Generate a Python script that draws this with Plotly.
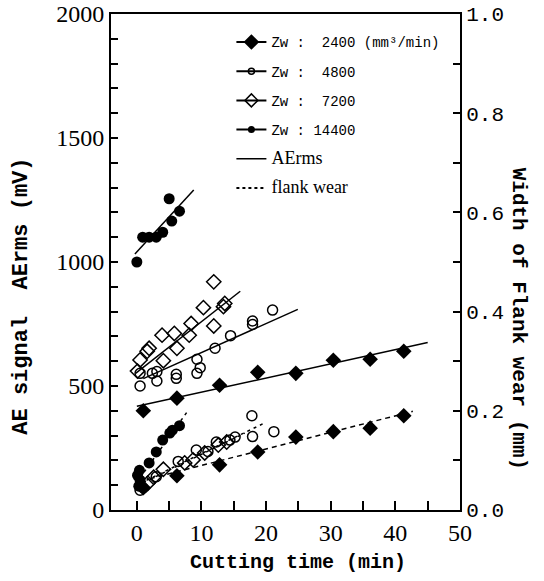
import plotly.graph_objects as go

# ---------------- data ----------------
# Zw = 2400 mm3/min (filled diamonds)
t_2400 = [1, 6.2, 12.8, 18.7, 24.6, 30.4, 36.1, 41.3]
ae_2400 = [400, 451, 503, 555, 551, 604, 608, 640]
fw_2400 = [0.045, 0.069, 0.091, 0.117, 0.147, 0.158, 0.165, 0.19]

# Zw = 4800 (open circles)
t_4800_ae = [0.5, 0.5, 2.4, 3.1, 3.1, 6.1, 6.1, 9.3, 9.8, 9.3, 12.1, 14.5, 17.9, 17.9, 21.0]
ae_4800 = [500, 551, 551, 520, 558, 547, 531, 551, 574, 608, 652, 703, 762, 748, 806]
t_4800_fw = [0.5, 3.0, 6.4, 9.2, 11.0, 12.3, 14.4, 15.2, 17.8, 17.9, 21.2]
fw_4800 = [0.04, 0.067, 0.098, 0.121, 0.118, 0.137, 0.141, 0.147, 0.190, 0.148, 0.158]

# Zw = 7200 (open diamonds)
t_7200_ae = [0.1, 0.5, 1.6, 1.9, 3.9, 4.1, 5.8, 6.2, 8.1, 8.4, 10.3, 11.9, 11.9, 13.4, 13.6]
ae_7200 = [560, 605, 640, 652, 705, 602, 712, 652, 705, 752, 816, 742, 920, 820, 833]
t_7200_fw = [1.7, 2.6, 4.1, 7.4, 8.7, 10.5, 12.6, 13.9]
fw_7200 = [0.054, 0.066, 0.082, 0.095, 0.101, 0.115, 0.131, 0.137]

# Zw = 14400 (filled circles)
t_14400_ae = [0, 0.9, 1.9, 3.0, 4.0, 5.4, 6.6, 5.0]
ae_14400 = [1000, 1100, 1100, 1100, 1120, 1165, 1205, 1255]
t_14400_fw = [0.1, 0.3, 0.4, 0.5, 1.0, 1.9, 3.0, 4.0, 5.1, 5.5, 6.6]
fw_14400 = [0.07, 0.048, 0.08, 0.06, 0.044, 0.095, 0.117, 0.141, 0.155, 0.161, 0.170]

# fitted trend lines (end points)
fit_ae_2400_t = [0, 45];     fit_ae_2400_v = [418, 675]
fit_ae_4800_t = [1, 24.9];   fit_ae_4800_v = [530, 809]
fit_ae_7200_t = [-0.2, 16];  fit_ae_7200_v = [551, 882]
fit_ae_14400_t = [-0.3, 8.8]; fit_ae_14400_v = [1032, 1290]
fit_fw_2400_t = [2, 42.7];   fit_fw_2400_v = [0.063, 0.199]
fit_fw_4800_t = [1.5, 20];   fit_fw_4800_v = [0.06, 0.177]
fit_fw_7200_t = [1, 16.7];   fit_fw_7200_v = [0.055, 0.155]
fit_fw_14400_t = [0.5, 7.9]; fit_fw_14400_v = [0.065, 0.2]

legend_names = [
    "Zw :\u00a0\u00a02400 (mm³/min)",
    "Zw :\u00a0\u00a04800",
    "Zw :\u00a0\u00a07200",
    "Zw : 14400",
]

# ---------------- styles ----------------
K = "black"
SERIF = "Liberation Serif"
MONO = "Liberation Mono"
sym = {"2400": ("diamond", 12, 0), "4800": ("circle-open", 10, 1.5),
       "7200": ("diamond-open", 11, 1.5), "14400": ("circle", 11, 0)}
leg_sym = {"2400": ("diamond", 12, 0), "4800": ("circle-open", 6, 1.5),
           "7200": ("diamond-open", 10, 1.5), "14400": ("circle", 7, 0)}
DASH_2400 = "5px,4px"
DASH_DOT = "3px,4px"

fig = go.Figure()

def markers(t, v, key, axis):
    s, sz, lw = sym[key]
    fig.add_trace(go.Scatter(x=t, y=v, mode="markers", yaxis=axis, showlegend=False,
                             marker=dict(symbol=s, size=sz, color=K, line=dict(color=K, width=lw))))

def fit(t, v, axis, dash):
    fig.add_trace(go.Scatter(x=t, y=v, mode="lines", yaxis=axis, showlegend=False,
                             line=dict(color=K, width=1.5, dash=dash)))

# AErms (left axis)
fit(fit_ae_2400_t, fit_ae_2400_v, "y", "solid")
fit(fit_ae_4800_t, fit_ae_4800_v, "y", "solid")
fit(fit_ae_7200_t, fit_ae_7200_v, "y", "solid")
fit(fit_ae_14400_t, fit_ae_14400_v, "y", "solid")
markers(t_2400, ae_2400, "2400", "y")
markers(t_4800_ae, ae_4800, "4800", "y")
markers(t_7200_ae, ae_7200, "7200", "y")
markers(t_14400_ae, ae_14400, "14400", "y")

# flank wear (right axis)
fit(fit_fw_2400_t, fit_fw_2400_v, "y2", DASH_2400)
fit(fit_fw_4800_t, fit_fw_4800_v, "y2", DASH_DOT)
fit(fit_fw_7200_t, fit_fw_7200_v, "y2", DASH_DOT)
fit(fit_fw_14400_t, fit_fw_14400_v, "y2", DASH_DOT)
markers(t_2400, fw_2400, "2400", "y2")
markers(t_4800_fw, fw_4800, "4800", "y2")
markers(t_7200_fw, fw_7200, "7200", "y2")
markers(t_14400_fw, fw_14400, "14400", "y2")

# legend entries
for i, key in enumerate(["2400", "4800", "7200", "14400"]):
    s, sz, lw = leg_sym[key]
    fig.add_trace(go.Scatter(x=[None], y=[None], mode="lines+markers", name=legend_names[i],
                             legendgroup="g%d" % i,
                             line=dict(color=K, width=2),
                             marker=dict(symbol=s, size=sz, color=K, line=dict(color=K, width=lw))))
fig.add_trace(go.Scatter(x=[None], y=[None], mode="lines", legendgroup="g4",
                         name='<span style="font-family:Liberation Serif;font-size:18px">AErms</span>',
                         line=dict(color=K, width=1.5)))
fig.add_trace(go.Scatter(x=[None], y=[None], mode="lines", legendgroup="g5",
                         name='<span style="font-family:Liberation Serif;font-size:18px">flank wear</span>',
                         line=dict(color=K, width=2, dash="dot")))

fig.update_layout(
    width=544, height=581,
    margin=dict(l=111, r=84, t=14, b=71, autoexpand=False),
    paper_bgcolor="white", plot_bgcolor="white",
    showlegend=True,
    legend=dict(x=0.345, y=0.975, xanchor="left", yanchor="top", bgcolor="rgba(0,0,0,0)",
                font=dict(family=MONO, size=14, color=K), tracegroupgap=8,
                itemwidth=30),
    xaxis=dict(range=[-4, 50], tick0=0, dtick=10, ticks="inside", ticklen=9, tickwidth=1.5,
               tickcolor=K, minor=dict(dtick=5, tick0=0, ticks="inside", ticklen=9, tickwidth=1.5, tickcolor=K),
               showline=True, linewidth=2, linecolor=K, mirror=True, showgrid=False, zeroline=False,
               automargin=False, tickfont=dict(family=SERIF, size=24, color=K)),
    yaxis=dict(range=[0, 2000], tick0=0, dtick=500, ticks="inside", ticklen=7, tickwidth=1.5,
               tickcolor=K, minor=dict(dtick=100, tick0=0, ticks="inside", ticklen=7, tickwidth=1.5, tickcolor=K),
               showline=True, linewidth=2, linecolor=K, showgrid=False, zeroline=False,
               automargin=False, tickfont=dict(family=SERIF, size=24, color=K)),
    yaxis2=dict(range=[0, 1], tick0=0, dtick=0.2, tickformat=".1f", overlaying="y", side="right",
                ticks="inside", ticklen=7, tickwidth=1.5, tickcolor=K,
                minor=dict(dtick=0.1, tick0=0, ticks="inside", ticklen=7, tickwidth=1.5, tickcolor=K),
                showline=True, linewidth=2, linecolor=K, showgrid=False, zeroline=False,
                automargin=False, tickfont=dict(family=MONO, size=21, color=K)),
    annotations=[
        dict(text="<b>AE signal\u00a0\u00a0AErms (mV)</b>", xref="paper", yref="paper",
             x=-0.255, y=0.43, xanchor="center", yanchor="middle", textangle=-90, showarrow=False,
             font=dict(family=MONO, size=22, color=K)),
        dict(text="<b>Width of Flank wear (mm)</b>", xref="paper", yref="paper",
             x=1.17, y=0.385, xanchor="center", yanchor="middle", textangle=90, showarrow=False,
             font=dict(family=MONO, size=21, color=K)),
        dict(text="<b>Cutting time (min)</b>", xref="paper", yref="paper",
             x=0.536, y=-0.105, xanchor="center", yanchor="middle", showarrow=False,
             font=dict(family=MONO, size=20, color=K)),
    ],
)

fig.write_html("out.html", config={"displayModeBar": False},
               post_script="document.body.style.margin='0px';")
